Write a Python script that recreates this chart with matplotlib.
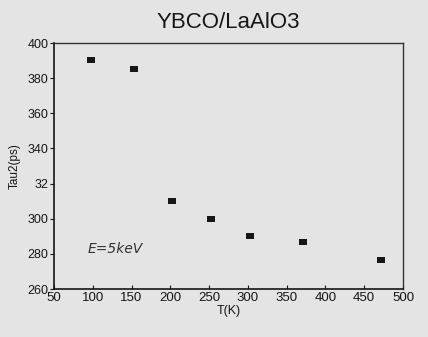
import matplotlib
matplotlib.use("Agg")
import matplotlib.pyplot as plt

# data
temp_k = [98, 153, 202, 252, 303, 371, 472]
tau2_ps = [390.5, 385.4, 310.2, 300.0, 290.2, 286.7, 276.5]

x_ticks = [50, 100, 150, 200, 250, 300, 350, 400, 450, 500]
y_ticks = [260, 280, 300, 320, 340, 360, 380, 400]
y_tick_labels = ["260", "280", "300", "32", "340", "360", "380", "400"]

bg = "#e4e4e4"
ink = "#161616"

plt.rcParams["font.family"] = ["Liberation Sans", "DejaVu Sans"]

fig = plt.figure(figsize=(4.28, 3.37), dpi=100, facecolor=bg)
ax = fig.add_axes([0.1262, 0.1424, 0.8154, 0.7300], facecolor=bg)

# rectangular marker, a bit wider than tall
rect = [(-1, -0.72), (1, -0.72), (1, 0.72), (-1, 0.72), (-1, -0.72)]
ax.plot(temp_k, tau2_ps, linestyle="none", marker=rect, markersize=6.3,
        color=ink, markeredgewidth=0)

ax.set_xlim(50, 500)
ax.set_ylim(260, 400)
ax.set_xticks(x_ticks)
ax.set_yticks(y_ticks)
ax.set_yticklabels(y_tick_labels)

ax.tick_params(axis="x", direction="in", length=3, width=0.8, colors=ink,
               labelsize=9.5, pad=2)
ax.tick_params(axis="y", direction="out", length=3, width=0.8, colors=ink,
               labelsize=9, pad=1)
for side in ["left", "bottom"]:
    ax.spines[side].set_linewidth(1.2)
    ax.spines[side].set_color(ink)
for side in ["top", "right"]:
    ax.spines[side].set_linewidth(1.0)
    ax.spines[side].set_color("#333333")

ax.set_title("YBCO/LaAlO3", fontsize=16, color=ink, pad=11)
ax.set_xlabel("T(K)", fontsize=9, color=ink, labelpad=1)
ax.set_ylabel("Tau2(ps)", fontsize=8.5, color=ink, labelpad=5)

# handwritten note on the scan
ax.text(93, 283, "E=5keV", fontsize=10, style="italic", color="#333333",
        family="DejaVu Sans", va="center")

fig.savefig("out.png", dpi=100, facecolor=bg)
